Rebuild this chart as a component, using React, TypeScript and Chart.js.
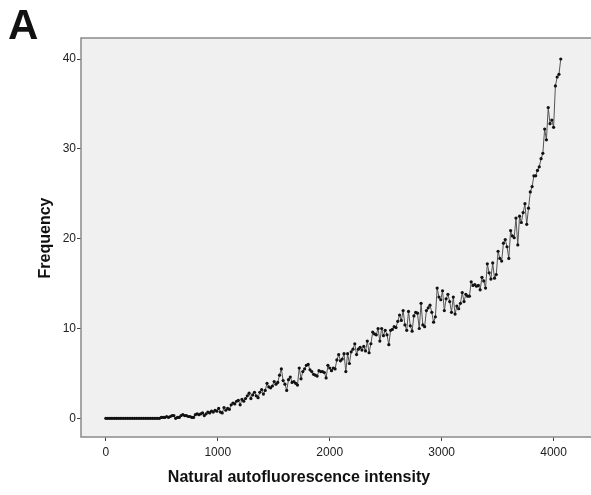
import React, { useEffect, useRef } from "react";
import { Chart, registerables } from "chart.js";

Chart.register(...registerables);

const BIN_WIDTH = 16;
const frequency: number[] = [
  0, 0, 0, 0, 0, 0, 0, 0, 0, 0, 0, 0, 0, 0, 0, 0, 0, 0, 0, 0,
  0, 0, 0, 0, 0, 0, 0, 0, 0, 0, 0, 0.1, 0.1, 0.1, 0.2, 0.1, 0.2, 0.3, 0.3, 0.0,
  0.1, 0.1, 0.3, 0.4, 0.3, 0.3, 0.2, 0.2, 0.1, 0.1, 0.4, 0.5, 0.4, 0.5, 0.6, 0.3, 0.5, 0.7, 0.6, 0.8,
  0.7, 0.9, 0.8, 1.1, 0.7, 0.6, 1.2, 0.9, 1.1, 1.0, 1.5, 1.7, 1.6, 1.9, 2.0, 1.5, 2.1, 1.9, 2.2, 2.5,
  2.8, 2.2, 2.6, 2.9, 2.5, 2.3, 2.9, 3.2, 2.7, 3.1, 3.9, 3.5, 3.4, 3.6, 4.1, 3.8, 4.0, 4.8, 5.5, 4.2,
  3.8, 3.1, 4.3, 4.6, 4.0, 4.1, 3.9, 3.7, 5.6, 4.4, 5.2, 5.5, 5.9, 6.0, 5.4, 5.2, 4.9, 4.8, 4.7, 5.3,
  5.2, 5.2, 5.1, 4.5, 5.9, 5.6, 5.3, 5.6, 5.5, 6.5, 7.1, 6.4, 6.6, 7.2, 5.2, 7.2, 6.1, 7.4, 7.7, 8.3,
  7.1, 7.7, 7.9, 7.6, 8.0, 7.5, 8.6, 7.3, 8.3, 9.6, 9.4, 9.3, 10.0, 8.6, 10.0, 9.2, 9.8, 9.3, 8.2, 9.8,
  9.9, 10.2, 10.1, 10.8, 11.5, 10.9, 12.0, 10.4, 9.8, 11.9, 10.3, 9.7, 11.4, 11.8, 11.7, 10.0, 12.8, 10.4, 10.2, 12.0,
  12.3, 12.6, 11.8, 10.7, 11.3, 14.5, 13.5, 13.2, 14.2, 12.0, 13.3, 13.8, 13.0, 11.8, 13.5, 11.6, 12.5, 12.2, 12.8, 14.0,
  13.0, 13.8, 13.6, 13.6, 15.2, 14.8, 14.9, 14.7, 14.8, 14.3, 15.7, 15.3, 14.5, 17.2, 16.2, 15.5, 17.3, 15.6, 16.0, 18.6,
  17.8, 17.5, 19.5, 19.9, 19.1, 17.8, 20.9, 20.3, 20.1, 22.3, 19.3, 22.5, 21.8, 22.9, 23.9, 21.6, 23.4, 25.2, 25.8, 27.0,
  27.0, 27.6, 28.0, 28.9, 29.5, 32.2, 31.0, 34.6, 32.8, 33.2, 32.4, 37.0, 38.0, 38.3, 40.0,
];
const xTickValues: number[] = [0, 1000, 2000, 3000, 4000];
const yTickValues: number[] = [0, 10, 20, 30, 40];
const xTitle = "Natural autofluorescence intensity";
const yTitle = "Frequency";
const panelLabel = "A";

const FONT = "'Liberation Sans', Arial, sans-serif";

export default function App() {
  const ref = useRef<HTMLCanvasElement>(null);

  useEffect(() => {
    if (!ref.current) return;
    const points = frequency.map((v, i) => ({ x: i * BIN_WIDTH, y: v }));

    const bgPlugin = {
      id: "bgPlugin",
      beforeDatasetsDraw(chart: any) {
        const { ctx, chartArea: a, width } = chart;
        ctx.save();
        ctx.fillStyle = "#f0f0f0";
        ctx.fillRect(a.left, a.top, width - a.left, a.bottom - a.top);
        ctx.restore();
      },
      afterDraw(chart: any) {
        const { ctx, chartArea: a, width } = chart;
        ctx.save();
        ctx.strokeStyle = "#8a8a8a";
        ctx.lineWidth = 1.5;
        ctx.beginPath();
        ctx.moveTo(width, a.top);
        ctx.lineTo(a.left, a.top);
        ctx.lineTo(a.left, a.bottom);
        ctx.lineTo(width, a.bottom);
        ctx.stroke();
        ctx.fillStyle = "#111";
        ctx.font = `bold 16px ${FONT}`;
        ctx.textAlign = "center";
        ctx.textBaseline = "middle";
        ctx.fillText(xTitle, 299, 478);
        ctx.save();
        ctx.translate(46, 238);
        ctx.rotate(-Math.PI / 2);
        ctx.fillText(yTitle, 0, 0);
        ctx.restore();
        ctx.font = `bold 42px ${FONT}`;
        ctx.textAlign = "left";
        ctx.textBaseline = "alphabetic";
        ctx.fillText(panelLabel, 8, 39);
        ctx.restore();
      },
    };

    const chart = new Chart(ref.current, {
      type: "scatter",
      data: {
        datasets: [
          {
            data: points,
            showLine: true,
            borderColor: "#555",
            borderWidth: 1,
            pointRadius: 1.6,
            pointBackgroundColor: "#111",
            pointBorderColor: "#111",
            pointBorderWidth: 0,
          },
        ],
      },
      options: {
        animation: false,
        responsive: false,
        maintainAspectRatio: false,
        layout: { padding: { left: 0, top: 38, right: 0, bottom: 0 } },
        plugins: { legend: { display: false }, tooltip: { enabled: false } },
        scales: {
          x: {
            type: "linear",
            min: -221.6,
            max: 4298.4,
            afterFit(scale: any) {
              scale.height = 58;
            },
            afterBuildTicks(scale: any) {
              scale.ticks = xTickValues.map((v) => ({ value: v }));
            },
            border: { display: false },
            grid: { display: true, drawOnChartArea: false, drawTicks: true, tickLength: 4, color: "#444" },
            ticks: {
              color: "#222",
              font: { family: FONT, size: 12 },
              padding: 4,
              maxRotation: 0,
              callback: (v: any) => String(v),
            },
          },
          y: {
            type: "linear",
            min: -2.08,
            max: 42.34,
            afterFit(scale: any) {
              scale.width = 81;
            },
            afterBuildTicks(scale: any) {
              scale.ticks = yTickValues.map((v) => ({ value: v }));
            },
            border: { display: false },
            grid: { display: true, drawOnChartArea: false, drawTicks: true, tickLength: 4, color: "#444" },
            ticks: { color: "#222", font: { family: FONT, size: 12 }, padding: 1, callback: (v: any) => String(v) },
          },
        },
      },
      plugins: [bgPlugin],
    });
    return () => chart.destroy();
  }, []);

  return (
    <div style={{ position: "fixed", left: 0, top: 0, width: 591, height: 495, background: "#fff" }}>
      <canvas ref={ref} width={591} height={495} style={{ width: 591, height: 495 }} />
    </div>
  );
}
